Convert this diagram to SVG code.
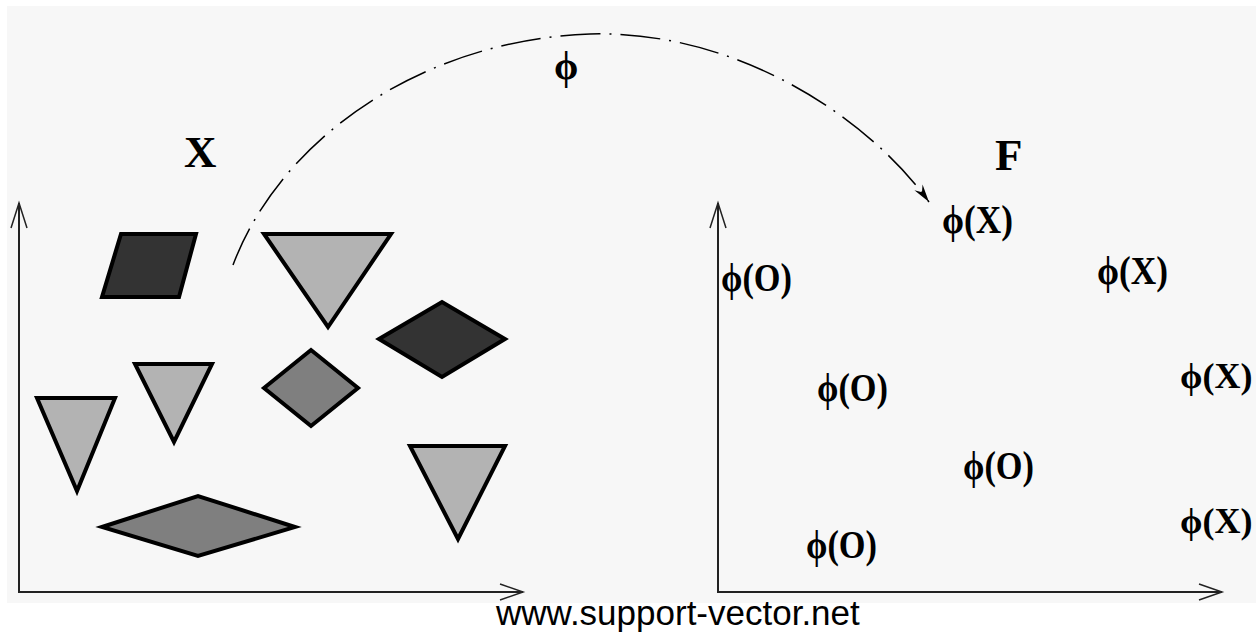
<svg xmlns="http://www.w3.org/2000/svg" width="1256" height="634" viewBox="0 0 1256 634">
<defs>
<style>
.shape{stroke:#000;stroke-width:4;stroke-linejoin:miter}
.dark{fill:#333}
.mid{fill:#7f7f7f}
.light{fill:#b3b3b3}
.axis{stroke:#222;stroke-width:2;fill:none}
.wing{stroke:#222;stroke-width:1.5;fill:none}
.lbl{font-family:"Liberation Serif","DejaVu Serif","Times New Roman",serif;font-weight:bold;fill:#000}
.pt{font-size:39px}
.pe{font-size:36px}
.sp{font-size:45px}
.url{font-family:"Liberation Sans",Arial,sans-serif;font-size:35px;fill:#000}
</style>
<marker id="arr" markerWidth="20" markerHeight="14" refX="18" refY="7" orient="auto" markerUnits="userSpaceOnUse">
<path d="M0,2 L18,7 L0,12 L6,7 Z" fill="#000"/>
</marker>
</defs>
<rect x="0" y="0" width="1256" height="634" fill="#fff"/>
<rect x="7" y="6" width="1249" height="597" fill="#f7f7f7"/>

<g id="axes-x">
<path class="axis" d="M19,203 L19,592 L523,592"/>
<path class="wing" d="M11,228 L19,203 L27,228"/>
<path class="wing" d="M500,584 L523,592 L500,600"/>
</g>
<g id="axes-f">
<path class="axis" d="M718,203 L718,592 L1222,592"/>
<path class="wing" d="M710,228 L718,203 L726,228"/>
<path class="wing" d="M1199,584 L1222,592 L1199,600"/>
</g>

<g id="label-X"><text class="lbl sp" x="184" y="167">X</text></g>
<g id="label-F"><text class="lbl sp" x="995" y="170">F</text></g>

<g id="shape-parallelogram"><polygon class="shape dark" points="121,234 196,234 179,297 102,297"/></g>
<g id="shape-tri-big"><polygon class="shape light" points="264,234 391,234 328,327"/></g>
<g id="shape-diamond-dark"><polygon class="shape dark" points="379,339 442,302 505,339 442,377"/></g>
<g id="shape-diamond-mid"><polygon class="shape mid" points="264,388 311,350 358,388 311,426"/></g>
<g id="shape-tri-small"><polygon class="shape light" points="135,364 212,364 174,442"/></g>
<g id="shape-tri-left"><polygon class="shape light" points="37,398 115,398 77,491"/></g>
<g id="shape-diamond-wide"><polygon class="shape mid" points="102,527 198,496 295,527 198,556"/></g>
<g id="shape-tri-br"><polygon class="shape light" points="410,446 505,446 458,539"/></g>

<g id="connectors">
<path d="M233,265 C280,140 420,40 590,34 C740,30 870,120 929,202" fill="none" stroke="#000" stroke-width="1.5" stroke-dasharray="40 9 2 9" marker-end="url(#arr)"/>
</g>
<g id="label-phi"><text class="lbl pt" x="554" y="79">ϕ</text></g>

<g id="fx1"><text class="lbl pt" x="942" y="233" textLength="71" lengthAdjust="spacingAndGlyphs">ϕ(X)</text></g>
<g id="fo1"><text class="lbl pt" x="721" y="291" textLength="71" lengthAdjust="spacingAndGlyphs">ϕ(O)</text></g>
<g id="fx2"><text class="lbl pt" x="1097" y="284" textLength="71" lengthAdjust="spacingAndGlyphs">ϕ(X)</text></g>
<g id="fo2"><text class="lbl pt" x="817" y="401" textLength="71" lengthAdjust="spacingAndGlyphs">ϕ(O)</text></g>
<g id="fx3"><text class="lbl pe" x="1180" y="388">ϕ(X)</text></g>
<g id="fo3"><text class="lbl pt" x="963" y="479" textLength="71" lengthAdjust="spacingAndGlyphs">ϕ(O)</text></g>
<g id="fx4"><text class="lbl pe" x="1180" y="533">ϕ(X)</text></g>
<g id="fo4"><text class="lbl pt" x="806" y="558" textLength="71" lengthAdjust="spacingAndGlyphs">ϕ(O)</text></g>

<g id="url"><text class="url" x="496" y="625">www.support-vector.net</text></g>
</svg>
